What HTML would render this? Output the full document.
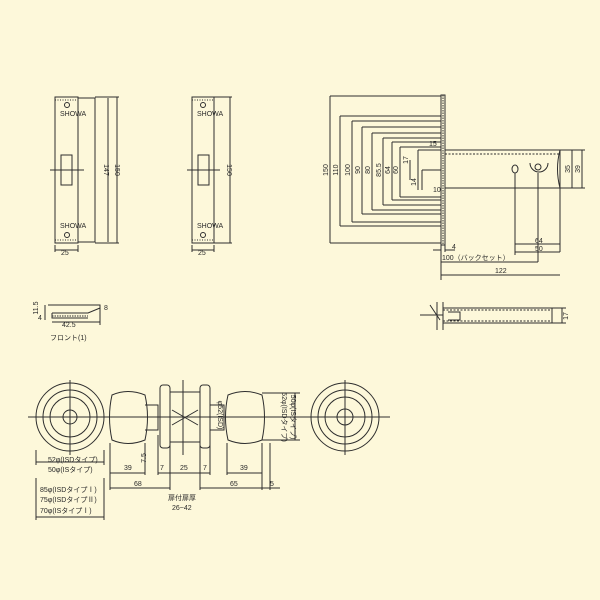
<!DOCTYPE html>
<html><head><meta charset="utf-8"><style>
html,body{margin:0;padding:0;background:#fdf8da;}
svg{display:block}
text{font-family:"Liberation Sans","Noto Sans CJK JP",sans-serif;fill:#2a2a2a;font-size:7px}
</style></head><body>
<svg width="600" height="600" viewBox="0 0 600 600" xmlns="http://www.w3.org/2000/svg">
<rect width="600" height="600" fill="#fdf8da"/>
<g stroke="#2e2e2e" stroke-width="1" fill="none">
<!-- plate 1 -->
<rect x="55" y="97" width="23" height="146"/>
<rect x="78" y="98" width="17" height="144"/>
<line x1="78" y1="98" x2="78" y2="242" stroke-dasharray="1.5,1.5"/>
<line x1="55" y1="100" x2="78" y2="100" stroke-dasharray="1,1.5"/>
<line x1="55" y1="240" x2="78" y2="240" stroke-dasharray="1,1.5"/>
<circle cx="67" cy="105" r="2.5"/><circle cx="67" cy="235" r="2.5"/>
<rect x="61" y="155" width="11" height="30"/><line x1="61" y1="170" x2="72" y2="170"/>
<line x1="50" y1="170" x2="84" y2="170"/>
<line x1="108" y1="98" x2="108" y2="242"/><line x1="117" y1="97" x2="117" y2="243"/>
<line x1="95" y1="97" x2="119" y2="97"/><line x1="95" y1="243" x2="119" y2="243"/>
<line x1="55" y1="245" x2="55" y2="252"/><line x1="78" y1="245" x2="78" y2="252"/><line x1="55" y1="250" x2="78" y2="250"/>
<!-- plate 2 -->
<rect x="192" y="97" width="22" height="146"/>
<line x1="192" y1="100" x2="214" y2="100" stroke-dasharray="1,1.5"/>
<line x1="192" y1="240" x2="214" y2="240" stroke-dasharray="1,1.5"/>
<circle cx="203" cy="105" r="2.5"/><circle cx="203" cy="235" r="2.5"/>
<rect x="198" y="155" width="11" height="30"/><line x1="198" y1="170" x2="209" y2="170"/>
<line x1="187" y1="170" x2="220" y2="170"/>
<line x1="230" y1="97" x2="230" y2="243"/>
<line x1="214" y1="97" x2="232" y2="97"/><line x1="214" y1="243" x2="232" y2="243"/>
<line x1="192" y1="245" x2="192" y2="252"/><line x1="214" y1="245" x2="214" y2="252"/><line x1="192" y1="250" x2="214" y2="250"/>
<!-- top right: nested dims -->
<rect x="441" y="95" width="4" height="150"/>
<line x1="443" y1="95" x2="443" y2="245" stroke-dasharray="1.5,1"/>
<path d="M330 96 H441 M330 243 H441 M330 96 V243"/>
<path d="M340 116 H441 M340 226 H441 M340 116 V226"/>
<path d="M352 121 H441 M352 222 H441 M352 121 V222"/>
<path d="M362 127 H441 M362 214 H441 M362 127 V214"/>
<path d="M372 133 H441 M372 210 H441 M372 133 V210"/>
<path d="M383 138 H441 M383 205 H441 M383 138 V205"/>
<path d="M392 142 H441 M392 200 H441 M392 142 V200"/>
<path d="M400 147 H441 M400 197 H441 M400 147 V197"/>
<path d="M418 150 V190 M418 150 H441 M422 170 V190 M422 170 H441 M410 160 V180"/>
<rect x="445" y="150" width="115" height="38"/>
<line x1="445" y1="154" x2="560" y2="154" stroke-dasharray="2,1.5"/>
<path d="M560 150 Q555 169 560 188"/>
<ellipse cx="515" cy="169" rx="3" ry="4"/>
<path d="M530 163 A9 9 0 0 0 548 163" /><circle cx="538" cy="167" r="3"/>
<path d="M560 150 H585 M560 188 H585 M572 150 V188 M582 150 V188"/>
<path d="M515 173 V255 M538 173 V262 M560 188 V252 M441 245 V280 M445 245 V252"/>
<path d="M515 244 H560 M515 252 H560 M441 262 H538 M441 275 H560 M433 250 H441 M445 250 H455"/>
<!-- small front part -->
<path d="M48 305 H100 V318 M52 313 H88 L100 308 M52 313 V318 H88"/>
<line x1="52" y1="316" x2="88" y2="316" stroke-dasharray="1.5,1"/>
<path d="M45 305 V320 M52 322 H100 M100 318 V325"/>
<!-- right side part -->
<path d="M430 305 L440 320 M437 302 V330 M443 302 V330 M443 308 H552 V323 H443 M448 312 H460 V320 H448 M443 315 H420"/>
<line x1="443" y1="310" x2="552" y2="310" stroke-dasharray="2,1.5"/>
<line x1="443" y1="321" x2="552" y2="321" stroke-dasharray="2,1.5"/>
<path d="M552 308 H566 M552 323 H566 M562 308 V323"/>
<!-- bottom knobs -->
<line x1="28" y1="417" x2="390" y2="417"/>
<line x1="70" y1="380" x2="70" y2="455"/><line x1="345" y1="380" x2="345" y2="455"/>
<circle cx="70" cy="417" r="34"/><circle cx="70" cy="417" r="27"/><circle cx="70" cy="417" r="20"/><circle cx="70" cy="417" r="7"/>
<circle cx="345" cy="417" r="34"/><circle cx="345" cy="417" r="27"/><circle cx="345" cy="417" r="20"/><circle cx="345" cy="417" r="8"/>
<path d="M112 395 Q128 388 145 395 Q150 417 145 440 Q128 447 112 440 Q107 417 112 395Z"/>
<path d="M145 405 H158 V430 H145"/>
<rect x="160" y="385" width="10" height="63" rx="3"/>
<rect x="170" y="392" width="30" height="50"/>
<path d="M172 410 L198 425 M172 425 L198 410"/>
<line x1="183" y1="380" x2="183" y2="455"/>
<rect x="200" y="385" width="10" height="63" rx="3"/>
<path d="M210 405 H224 V430 H210"/>
<path d="M228 395 Q245 388 262 395 Q267 417 262 440 Q245 447 228 440 Q223 417 228 395Z"/>
<path d="M262 393 H300 M262 440 H300 M295 393 V440"/>
<path d="M36 450 V465 M104 450 V465 M36 462 H104 M36 478 V520 M104 478 V520 M36 517 H104"/>
<path d="M110 443 V490 M145 443 V475 M158 435 V475 M170 445 V490 M200 445 V490 M210 445 V475 M227 443 V475 M262 443 V490 M270 443 V490"/>
<path d="M110 473 H145 M158 473 H170 M170 473 H200 M200 473 H210 M227 473 H262 M110 488 H170 M200 488 H262 M262 488 H280"/>
</g>
<!-- texts -->
<g>
<text x="61" y="255" font-size="7">25</text>
<text x="198" y="255" font-size="7">25</text>
<text x="104" y="170" font-size="6" transform="rotate(90 104 170)" text-anchor="middle">147</text>
<text x="115" y="170" font-size="6" transform="rotate(90 115 170)" text-anchor="middle">150</text>
<text x="227" y="170" font-size="6" transform="rotate(90 227 170)" text-anchor="middle">150</text>
<text x="60" y="116" font-size="4">SHOWA</text><text x="197" y="116" font-size="4">SHOWA</text>
<text x="60" y="228" font-size="4">SHOWA</text><text x="197" y="228" font-size="4">SHOWA</text>
<g font-size="6">
<text x="328" y="170" transform="rotate(-90 328 170)" text-anchor="middle">150</text>
<text x="338" y="170" transform="rotate(-90 338 170)" text-anchor="middle">110</text>
<text x="350" y="170" transform="rotate(-90 350 170)" text-anchor="middle">100</text>
<text x="360" y="170" transform="rotate(-90 360 170)" text-anchor="middle">90</text>
<text x="370" y="170" transform="rotate(-90 370 170)" text-anchor="middle">80</text>
<text x="381" y="170" transform="rotate(-90 381 170)" text-anchor="middle">85.5</text>
<text x="390" y="170" transform="rotate(-90 390 170)" text-anchor="middle">64</text>
<text x="398" y="170" transform="rotate(-90 398 170)" text-anchor="middle">60</text>
<text x="408" y="160" transform="rotate(-90 408 160)" text-anchor="middle">17</text>
<text x="416" y="182" transform="rotate(-90 416 182)" text-anchor="middle">14</text>
<text x="429" y="146">15</text><text x="433" y="192">10</text>
<text x="452" y="249">4</text>
<text x="535" y="243">64</text><text x="535" y="251">50</text>
<text x="442" y="260">100（バックセット）</text>
<text x="495" y="273">122</text>
<text x="570" y="169" transform="rotate(-90 570 169)" text-anchor="middle">35</text>
<text x="580" y="169" transform="rotate(-90 580 169)" text-anchor="middle">39</text>
<text x="568" y="316" transform="rotate(-90 568 316)" text-anchor="middle">17</text>
<text x="38" y="308" transform="rotate(-90 38 308)" text-anchor="middle">11.5</text>
<text x="38" y="320">4</text>
<text x="104" y="310" font-size="5">8</text>
<text x="62" y="327">42.5</text>
<text x="50" y="340">フロント(1)</text>
<text x="124" y="470">39</text><text x="160" y="470">7</text><text x="180" y="470">25</text><text x="203" y="470">7</text><text x="240" y="470">39</text>
<text x="134" y="486">68</text><text x="230" y="486">65</text><text x="270" y="486">5</text>
<text x="168" y="500">扉付扉厚</text><text x="172" y="510">26~42</text>
<text x="48" y="462">52φ(ISDタイプ)</text>
<text x="48" y="472">50φ(ISタイプ)</text>
<text x="40" y="492">85φ(ISDタイプⅠ)</text>
<text x="40" y="502">75φ(ISDタイプⅡ)</text>
<text x="40" y="513">70φ(ISタイプⅠ)</text>
<text x="146" y="458" transform="rotate(-90 146 458)" text-anchor="middle">7.5</text>
<text x="218" y="415" transform="rotate(90 218 415)" text-anchor="middle">φ52(ISD)</text>
<text x="282" y="417" transform="rotate(90 282 417)" text-anchor="middle">52φ(ISDタイプ)</text>
<text x="291" y="417" transform="rotate(90 291 417)" text-anchor="middle">50φ(ISタイプ)</text>
</g>
</g>
</svg>
</body></html>
